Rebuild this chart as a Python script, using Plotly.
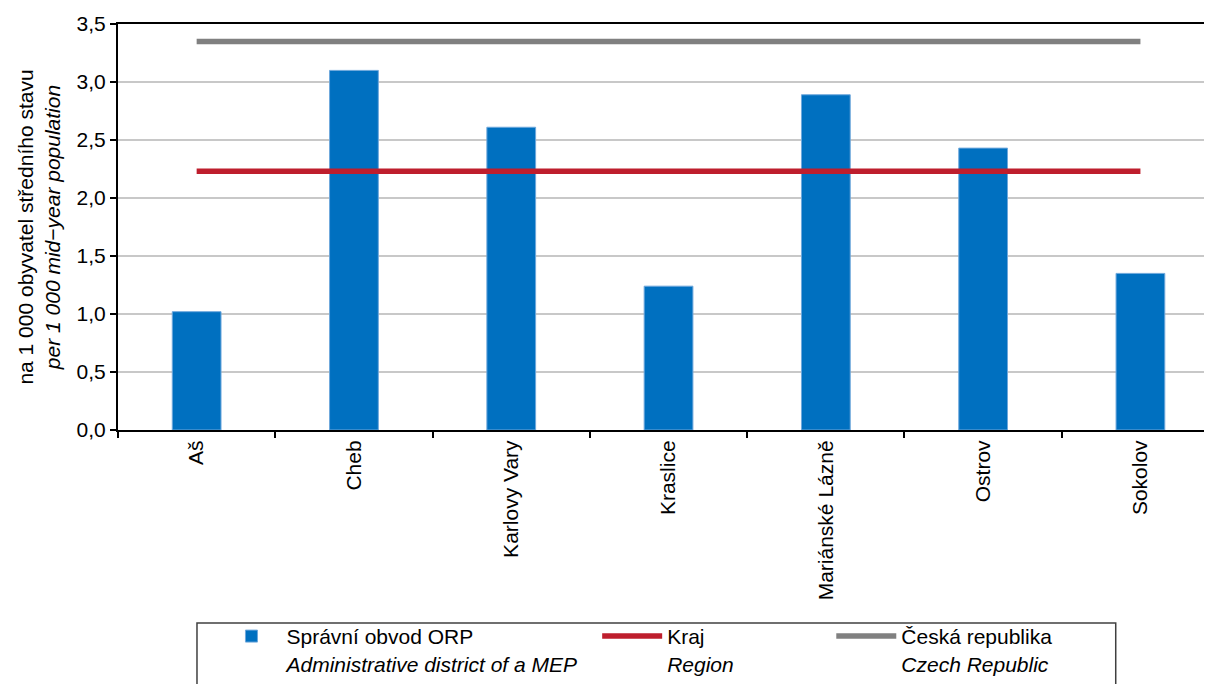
import plotly.graph_objects as go

districts = ["Aš", "Cheb", "Karlovy Vary", "Kraslice", "Mariánské Lázně", "Ostrov", "Sokolov"]
district_values = [1.02, 3.10, 2.61, 1.24, 2.89, 2.43, 1.35]
region_value = 2.23
czech_value = 3.35

BAR_COLOR = "#0070C0"
REGION_COLOR = "#BE1E2D"
CZ_COLOR = "#808080"
FONT = "Liberation Sans, Arial, sans-serif"

fig = go.Figure()

fig.add_trace(go.Bar(
    x=districts, y=district_values,
    name="Správní obvod ORP<br><i>Administrative district of a MEP</i>",
    marker=dict(color=BAR_COLOR, line=dict(color="#6FA8DC", width=1)),
    width=0.31,
    legend="legend",
))
# region and country averages as flat lines across all districts
fig.add_trace(go.Scatter(
    x=districts, y=[region_value] * len(districts), mode="lines",
    name="Kraj<br><i>Region</i>",
    line=dict(color=REGION_COLOR, width=5.5),
    legend="legend2",
))
fig.add_trace(go.Scatter(
    x=districts, y=[czech_value] * len(districts), mode="lines",
    name="Česká republika<br><i>Czech Republic</i>",
    line=dict(color=CZ_COLOR, width=5.5),
    legend="legend3",
))

leg = dict(
    yanchor="top", xanchor="left", y=-0.458,
    bgcolor="rgba(0,0,0,0)", borderwidth=0, valign="top", itemwidth=60,
    font=dict(family=FONT, size=21, color="#000"),
)

# page body adds 8px margin, so the figure is 8px smaller and margins shifted
fig.update_layout(
    width=1204, height=676,
    paper_bgcolor="white", plot_bgcolor="white",
    font=dict(family=FONT, size=21, color="#000"),
    margin=dict(l=110, r=0, t=16, b=252),
    separators=", ",
    showlegend=True,
    legend={**leg, "x": 0.09},
    legend2={**leg, "x": 0.438},
    legend3={**leg, "x": 0.652},
    xaxis=dict(
        type="category", range=[-0.5, 6.455], autorange=False,
        showline=True, linecolor="#000", linewidth=2, mirror=True,
        ticks="outside", tickson="boundaries", ticklen=6, tickcolor="#000", tickwidth=1.5,
        tickangle=-90, tickfont=dict(size=21),
        showgrid=False,
    ),
    yaxis=dict(
        range=[0, 3.5], dtick=0.5, tickformat=".1f",
        showline=True, linecolor="#000", linewidth=2,
        ticks="outside", ticklen=6, tickcolor="#000", tickwidth=1.5,
        gridcolor="#C8C8C8", gridwidth=1.5, zeroline=False,
        tickfont=dict(size=21),
        title=dict(text="na 1 000 obyvatel středního stavu<br><i>per 1 000 mid−year population</i>",
                   font=dict(size=21), standoff=10),
    ),
    shapes=[dict(
        type="rect", xref="paper", yref="paper",
        x0=0.0722, x1=0.912, y0=-0.4755, y1=-0.66,
        line=dict(color="#404040", width=1.5), fillcolor="rgba(0,0,0,0)",
    )],
)

fig.write_html("out.html")
